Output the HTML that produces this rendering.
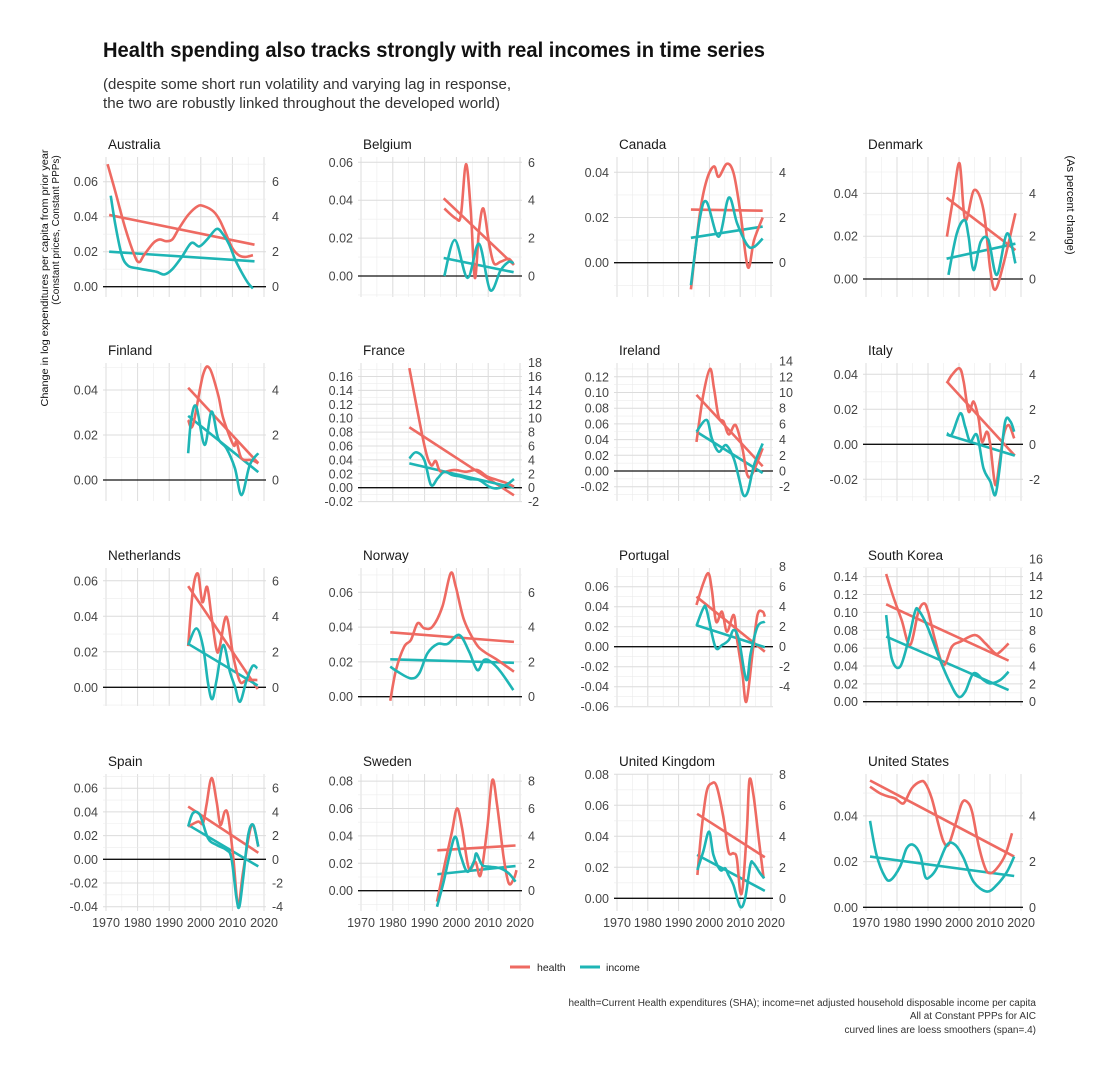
<!DOCTYPE html>
<html><head><meta charset="utf-8">
<style>
html,body{margin:0;padding:0;background:#fff;}
svg{display:block;font-family:"Liberation Sans",sans-serif;}
</style></head>
<body>
<svg id="chart" width="1114" height="1075" viewBox="0 0 1114 1075">
<text x="103" y="57" font-size="21" font-weight="bold" fill="#111" textLength="662" lengthAdjust="spacingAndGlyphs">Health spending also tracks strongly with real incomes in time series</text>
<text x="103" y="89" font-size="15" fill="#333" textLength="408" lengthAdjust="spacingAndGlyphs">(despite some short run volatility and varying lag in response,</text>
<text x="103" y="108" font-size="15" fill="#333" textLength="397" lengthAdjust="spacingAndGlyphs">the two are robustly linked throughout the developed world)</text>
<text transform="translate(48,278) rotate(-90)" text-anchor="middle" font-size="10" fill="#111" textLength="257" lengthAdjust="spacingAndGlyphs">Change in log expenditures per capita from prior year</text>
<text transform="translate(59,230) rotate(-90)" text-anchor="middle" font-size="10" fill="#111">(Constant prices, Constant PPPs)</text>
<text transform="translate(1067,205) rotate(90)" text-anchor="middle" font-size="11" fill="#111">(As percent change)</text>
<g>
<line x1="510" y1="967" x2="530" y2="967" stroke="#EE6A62" stroke-width="3"/>
<text x="537" y="971" font-size="10.5" fill="#222">health</text>
<line x1="580" y1="967" x2="600" y2="967" stroke="#1EB5B5" stroke-width="3"/>
<text x="606" y="971" font-size="10.5" fill="#222">income</text>
</g>
<g font-size="10" fill="#333" text-anchor="end">
<text x="1036" y="1006">health=Current Health expenditures (SHA); income=net adjusted household disposable income per capita</text>
<text x="1036" y="1019">All at Constant PPPs for AIC</text>
<text x="1036" y="1033">curved lines are loess smoothers (span=.4)</text>
</g>
<g id="panels"></g>
</svg>
<script>
const countries=["Australia","Belgium","Canada","Denmark","Finland","France","Ireland","Italy","Netherlands","Norway","Portugal","South Korea","Spain","Sweden","United Kingdom","United States"];
const xTickYears=[1970,1980,1990,2000,2010,2020];
const leftTicks=[
[0,.02,.04,.06],[0,.02,.04,.06],[0,.02,.04],[0,.02,.04],
[0,.02,.04],[-.02,0,.02,.04,.06,.08,.10,.12,.14,.16],[-.02,0,.02,.04,.06,.08,.10,.12],[-.02,0,.02,.04],
[0,.02,.04,.06],[0,.02,.04,.06],[-.06,-.04,-.02,0,.02,.04,.06],[0,.02,.04,.06,.08,.10,.12,.14],
[-.04,-.02,0,.02,.04,.06],[0,.02,.04,.06,.08],[0,.02,.04,.06,.08],[0,.02,.04]];
const rightTicks=[
[0,2,4,6],[0,2,4,6],[0,2,4],[0,2,4],
[0,2,4],[-2,0,2,4,6,8,10,12,14,16,18],[-2,0,2,4,6,8,10,12,14],[-2,0,2,4],
[0,2,4,6],[0,2,4,6],[-4,-2,0,2,4,6,8],[0,2,4,6,8,10,12,14,16],
[-4,-2,0,2,4,6],[0,2,4,6,8],[0,2,4,6,8],[0,2,4]];
const health_Australia=[[1970.5,.070],[1973,.054],[1976,.034],[1979,.018],[1980.5,.014],[1982,.018],[1985,.025],[1987,.027],[1989,.026],[1991,.027],[1993,.033],[1996,.041],[1999,.046],[2001,.046],[2004,.043],[2006,.038],[2008,.030],[2010,.022],[2012,.018],[2014,.017],[2016.5,.018]];
const income_Australia=[[1971.5,.052],[1973,.035],[1975,.018],[1977,.012],[1980,.0105],[1983,.0095],[1986,.0085],[1988.5,.007],[1991,.010],[1994,.017],[1997,.025],[1999.5,.023],[2002,.027],[2005,.033],[2007,.030],[2009,.024],[2011,.015],[2013,.008],[2015,.002],[2016.5,-.001]];
const health_Belgium=[[1996.2,.0356],[1999.8,.0304],[2001.4,.032],[2003,.059],[2004.5,.035],[2005.8,-.001],[2007.1,.024],[2008.5,.0356],[2010.3,.017],[2011.8,.0067],[2013.9,.0075],[2016.5,.009],[2018.1,.0058]];
const income_Belgium=[[1996.2,0],[1999.5,.019],[2003.5,-.001],[2007.1,.017],[2010.6,-.0074],[2013.9,.003],[2016.5,.0075],[2018,.0067]];
const health_Canada=[[1994,-.0118],[1996.9,.0218],[1999.1,.0365],[2001.5,.0426],[2003,.038],[2005.7,.0438],[2007.9,.0394],[2010.1,.0218],[2012.5,-.002],[2014.5,.01],[2017.3,.02]];
const income_Canada=[[1994,-.0099],[1996.9,.0196],[1999.1,.0269],[2003,.0115],[2006.3,.0288],[2009,.0174],[2012.3,.0078],[2014.5,.007],[2017.3,.0107]];
const health_Denmark=[[1996.1,.0198],[1998.2,.0384],[2000.2,.054],[2002,.0275],[2004.9,.0416],[2007.9,.0322],[2010.1,.0042],[2011.7,-.005],[2014.4,.0073],[2018.2,.0307]];
const income_Denmark=[[1996.6,.0019],[1999.3,.0213],[2001.8,.0275],[2003.1,.0198],[2004.7,.0042],[2007,.0174],[2009.5,.0182],[2012.2,.0019],[2015.5,.0213],[2018.2,.0073]];
const health_Finland=[[1996,.0267],[1997.5,.0244],[2000.7,.0467],[2002.8,.0496],[2005.5,.0378],[2007.1,.0274],[2010.3,.0156],[2011.3,.017],[2012.9,.0096],[2016.1,.0089],[2018.2,.0074]];
const income_Finland=[[1996,.0119],[1997,.0274],[1998.6,.0326],[2001.2,.0156],[2003.4,.0304],[2005.5,.0185],[2008.1,.0141],[2010.8,.0052],[2012.9,-.0067],[2015.5,.0067],[2018.2,.0119]];
const health_France=[[1985.2,.172],[1989.9,.0615],[1992,.0327],[1993.5,.0385],[1995.1,.023],[1999.3,.0255],[2003,.023],[2006.6,.0255],[2009.7,.016],[2012.9,.011],[2016,.0063],[2018.1,.0014]];
const income_France=[[1985.2,.042],[1987.3,.051],[1989.9,.04],[1992,.004],[1994.1,.0135],[1996.2,.023],[1998.8,.018],[2001.4,.016],[2004,.0125],[2007.1,.011],[2010.3,.0014],[2012.9,-.001],[2016,.005],[2018.1,.0125]];
const health_Ireland=[[1995.8,.037],[1998,.0966],[2000.2,.130],[2001.5,.105],[2003,.069],[2004.6,.063],[2006.3,.0466],[2008.5,.0585],[2010.7,.029],[2012.3,-.005],[2014,-.003],[2017.3,.029]];
const income_Ireland=[[1995.8,.05],[1999.1,.065],[2000.8,.0415],[2003,.0246],[2005.4,.033],[2007.9,.016],[2009.6,-.0093],[2011,-.0305],[2012.5,-.026],[2014.5,.0076],[2017.3,.035]];
const health_Italy=[[1996.1,.0349],[1997.7,.0396],[2000.2,.0434],[2001.5,.0358],[2003.1,.0187],[2004.7,.0244],[2006.3,.0149],[2007.4,.0015],[2009,.0072],[2010.1,-.0004],[2011.7,-.0232],[2013.1,-.0099],[2014.4,.0053],[2016,.011],[2017.8,.0034]];
const income_Italy=[[1996.1,.0063],[1997.7,.0057],[2000.4,.0177],[2002,.01],[2003.6,.0015],[2005.8,.0053],[2007.9,-.0137],[2010.1,-.0213],[2011.7,-.029],[2013.1,-.0137],[2014.9,.013],[2016.6,.013],[2017.8,.0072]];
const health_Netherlands=[[1996,.0232],[1997.5,.0547],[1999.1,.064],[2000.5,.048],[2002,.0566],[2003.4,.0397],[2005,.021],[2006,.0229],[2008.1,.0397],[2010.3,.0172],[2012.4,.0032],[2014.5,.0041],[2017.9,.0041]];
const income_Netherlands=[[1996,.0238],[1998.6,.0332],[2000.7,.0229],[2002.3,.0022],[2003.6,-.0067],[2005,.0041],[2007.1,.0238],[2009.2,.0088],[2010.8,.0004],[2012.4,-.0081],[2014.5,.0041],[2016.4,.012],[2017.9,.0107]];
const health_Norway=[[1979.2,-.0023],[1981,.0153],[1983.6,.0288],[1985.7,.0326],[1987.8,.0422],[1989.9,.0393],[1992.5,.0403],[1995.6,.0518],[1998.2,.071],[1999.8,.0633],[2002.4,.0441],[2006.1,.0307],[2008.7,.0259],[2012.9,.0211],[2018.1,.0144]];
const income_Norway=[[1979.2,.0173],[1981.5,.0144],[1985.7,.0105],[1988.3,.0134],[1990.9,.0249],[1994.1,.0303],[1997.2,.0303],[2000.9,.0355],[2004,.0259],[2006.6,.0153],[2008.7,.0211],[2010.8,.0201],[2013.9,.0144],[2017.9,.0038]];
const health_Portugal=[[1995.8,.0417],[1998,.0633],[1999.7,.0733],[2000.8,.0567],[2002.2,.025],[2004.1,.035],[2005.7,.015],[2007.9,.0317],[2009,.0067],[2010.7,-.0267],[2012,-.055],[2014,-.0067],[2015.6,.0317],[2017.3,.035],[2018,.03]];
const income_Portugal=[[1995.8,.0207],[1998,.0383],[1999.1,.0367],[2001.9,0],[2004.1,.0017],[2006.3,.0067],[2007.9,.0167],[2009.6,.0067],[2012,-.0333],[2013.4,-.0067],[2015.6,.02],[2018,.025]];
const health_SouthKorea=[[1976.5,.143],[1978.8,.1175],[1981.5,.0914],[1984.2,.0634],[1986.9,.1007],[1988.8,.110],[1990.2,.0989],[1992.3,.069],[1995,.041],[1997.7,.0616],[2000.4,.0672],[2005.2,.0746],[2008.5,.0653],[2011.7,.0541],[2013.3,.056],[2016,.0653]];
const income_SouthKorea=[[1976.5,.097],[1978.3,.0485],[1981,.0392],[1983.7,.069],[1985.8,.1007],[1986.9,.1026],[1989.6,.0858],[1993.9,.0466],[1997.2,.0205],[1999.8,.0056],[2002,.0112],[2004.7,.0317],[2007.9,.0243],[2010.1,.0205],[2013.3,.0243],[2016,.0336]];
const health_Spain=[[1996,.0276],[1999.1,.0318],[2000.7,.0304],[2001.8,.0459],[2003.4,.0685],[2005,.0487],[2006.2,.029],[2007.6,.0403],[2008.7,.036],[2010.3,.0008],[2011.8,-.0386],[2013.4,-.0104],[2016.1,.029],[2018.2,.0107]];
const income_Spain=[[1996,.0276],[1997.5,.0389],[1999.7,.0375],[2002.3,.0177],[2005,.0121],[2008.1,.0079],[2009.7,.0008],[2011.3,-.033],[2012.2,-.04],[2013.4,-.016],[2015,.0206],[2016.6,.029],[2018.2,.0107]];
const health_Sweden=[[1993.9,-.008],[1996.5,.021],[1998.6,.043],[2000.2,.060],[2001.8,.0455],[2003.9,.0163],[2006,.021],[2007.6,.0114],[2009.7,.0455],[2011.3,.0807],[2012.8,.0625],[2014.9,.0236],[2016.5,.0053],[2018.1,.009],[2018.9,.015]];
const income_Sweden=[[1993.9,-.0117],[1996,.0066],[1998.1,.0285],[1999.7,.0394],[2001.3,.026],[2003.4,.0139],[2005.5,.0212],[2006.3,.0272],[2008.1,.0187],[2010.7,.0175],[2013.9,.0163],[2016.5,.0126],[2018.6,.0066]];
const health_UnitedKingdom=[[1996.1,.015],[1997.5,.0452],[1999.1,.0688],[2000.8,.0742],[2002.4,.072],[2004.6,.0516],[2006.2,.0301],[2007.8,.029],[2008.9,.0258],[2010,.0043],[2010.9,.0086],[2012.2,.0452],[2013,.0763],[2014.3,.0667],[2016,.0387],[2017.6,.0129]];
const income_UnitedKingdom=[[1996.1,.0183],[1998,.0301],[1999.9,.043],[2001.3,.028],[2003.5,.0183],[2005.1,.0194],[2006.2,.015],[2007.8,.0086],[2010,-.0054],[2011.6,0],[2013.3,.0215],[2014.3,.0226],[2016.5,.0161],[2017.8,.0129]];
const health_UnitedStates=[[1971.3,.0528],[1974.5,.0499],[1977.2,.0485],[1979.4,.0477],[1981.5,.0455],[1982.6,.0463],[1984.8,.0521],[1987.5,.055],[1989.1,.0543],[1991.2,.0477],[1993.4,.0361],[1995,.0288],[1996.6,.0273],[1998.8,.0361],[2000.9,.0455],[2002.5,.0463],[2004.2,.0419],[2006.3,.0273],[2008.5,.017],[2010.1,.0149],[2012.2,.017],[2014.9,.0229],[2017.1,.0324]];
const income_UnitedStates=[[1971.3,.0378],[1973.4,.0229],[1976.1,.0134],[1978,.012],[1981,.0178],[1983.1,.0258],[1985.3,.0273],[1987.5,.0229],[1989.1,.0134],[1990.7,.0134],[1992.8,.0171],[1996.1,.0273],[1998.8,.0273],[2001.5,.0215],[2004.7,.0112],[2009,.0069],[2012.2,.0098],[2015.5,.0156],[2017.8,.0222]];
// linear fits: [startYear, startValue, endYear, endValue]
const trendHealth=[[1971,.041,2017,.024],[1996,.041,2018,.006],[1994,.0235,2017.3,.023],[1996,.038,2018.2,.0135],[1996,.041,2018.2,.0075],[1985.2,.087,2018.1,-.011],[1995.8,.097,2017.3,.006],[1996,.036,2018,-.0065],[1996,.057,2018,-.001],[1979.2,.037,2018.1,.0315],[1995.8,.050,2018,-.005],[1976.5,.109,2016,.046],[1996,.0445,2018.2,.0055],[1994,.0295,2018.6,.033],[1996,.0545,2018,.0265],[1971.3,.0555,2017.8,.0222]];
const trendIncome=[[1971,.020,2017,.0145],[1996,.0095,2018,.002],[1994,.011,2017.3,.016],[1996,.0095,2018.2,.0165],[1996,.0285,2018.2,.0035],[1985.2,.035,2018.1,0],[1995.8,.05,2017.3,-.0025],[1996,.0055,2018,-.0065],[1996,.0245,2018,.001],[1979.2,.0215,2018.1,.0195],[1995.8,.0215,2018,-.0005],[1976.5,.073,2016,.013],[1996,.029,2018.2,-.006],[1994,.012,2018.6,.018],[1996,.028,2018,.0048],[1971.3,.0222,2017.8,.0137]];
const healthSeries=[health_Australia,health_Belgium,health_Canada,health_Denmark,health_Finland,health_France,health_Ireland,health_Italy,health_Netherlands,health_Norway,health_Portugal,health_SouthKorea,health_Spain,health_Sweden,health_UnitedKingdom,health_UnitedStates];
const incomeSeries=[income_Australia,income_Belgium,income_Canada,income_Denmark,income_Finland,income_France,income_Ireland,income_Italy,income_Netherlands,income_Norway,income_Portugal,income_SouthKorea,income_Spain,income_Sweden,income_UnitedKingdom,income_UnitedStates];

// layout (pixels)
const colX=[[106,264],[361,520],[617,771],[866,1021]];
const rowY=[[157,297],[363,501],[568,706],[774,911]];
const zeroPx=[286.7,276,262.7,279,480,487.7,471,444.3,687.3,696.7,646.7,701.7,859.3,890.7,898.3,907.3];
const unitPx=[35,37.9,45.2,42.8,45,13.9,15.7,35,35.5,34.8,20,17.86,23.7,27.4,31,45.7];
const RED="#EE6A62",TEAL="#1EB5B5";
const NS="http://www.w3.org/2000/svg";
const root=document.getElementById('panels');
function mk(tag,attrs,parent){const e=document.createElementNS(NS,tag);for(const k in attrs)e.setAttribute(k,attrs[k]);parent.appendChild(e);return e;}
function smoothPath(pts){
  if(pts.length<2)return "";
  let d="M"+pts[0][0].toFixed(2)+","+pts[0][1].toFixed(2);
  for(let i=0;i<pts.length-1;i++){
    const p0=pts[i-1]||pts[i],p1=pts[i],p2=pts[i+1],p3=pts[i+2]||p2;
    const c1x=p1[0]+(p2[0]-p0[0])/6,c1y=p1[1]+(p2[1]-p0[1])/6;
    const c2x=p2[0]-(p3[0]-p1[0])/6,c2y=p2[1]-(p3[1]-p1[1])/6;
    d+=" C"+c1x.toFixed(2)+","+c1y.toFixed(2)+" "+c2x.toFixed(2)+","+c2y.toFixed(2)+" "+p2[0].toFixed(2)+","+p2[1].toFixed(2);
  }
  return d;
}
function fmtL(v){const s=Math.abs(v).toFixed(2);return (v<-1e-9?"-":"")+s;}
countries.forEach((name,i)=>{
  const col=i%4,row=Math.floor(i/4);
  const [g0,g1]=colX[col],[top,bot]=rowY[row];
  const left=g0-3,right=g1+2;
  const xs=yr=>g0+(yr-1970)*(g1-g0)/50;
  const ys=v=>zeroPx[i]-v/0.02*unitPx[i];
  const g=mk('g',{},root);
  
  
  const t=mk('text',{x:left+5,y:top-8,'font-size':13.5,fill:'#1a1a1a'},g);
  t.textContent=name;
  
  
  for(let yr=1970;yr<=2020;yr+=5){
    const major=yr%10===0;
    const l=mk('line',{x1:xs(yr),x2:xs(yr),y1:top,y2:bot,stroke:major?'#dcdcdc':'#ececec','stroke-width':major?1:0.6},g);
    
    
  }
  const lt=leftTicks[i];
  const minors=[];
  for(let k=0;k<lt.length-1;k++)minors.push((lt[k]+lt[k+1])/2);
  minors.push(lt[0]-0.01);minors.push(lt[lt.length-1]+0.01);
  minors.forEach(v=>{const y=ys(v);if(y>=top-0.5&&y<=bot+0.5){
    const l=mk('line',{x1:left,x2:right,y1:y,y2:y,stroke:'#ececec','stroke-width':0.6},g);
    
    }});
  lt.forEach(v=>{const y=ys(v);
    const l=mk('line',{x1:left,x2:right,y1:y,y2:y,stroke:'#dcdcdc','stroke-width':1},g);
    
    
    const tx=mk('text',{x:left-5,y:y+4.5,'font-size':12.5,fill:'#444','text-anchor':'end'},g);
    tx.textContent=fmtL(v);
    
    
  });
  rightTicks[i].forEach(v=>{const y=ys(v/100);
    const tx=mk('text',{x:right+6,y:y+4.5,'font-size':12.5,fill:'#444'},g);
    tx.textContent=String(v);
    
    
  });
  const z=mk('line',{x1:left,x2:right,y1:ys(0),y2:ys(0),stroke:'#111','stroke-width':1.3},g);
  
  
  if(row===3){xTickYears.forEach(yr=>{
    const tx=mk('text',{x:xs(yr),y:bot+16,'font-size':12.5,fill:'#444','text-anchor':'middle'},g);
    tx.textContent=String(yr);
    
    
  });}
  const th=trendHealth[i],ti=trendIncome[i];
  const l1=mk('line',{x1:xs(th[0]),y1:ys(th[1]),x2:xs(th[2]),y2:ys(th[3]),stroke:RED,'stroke-width':2.6},g);
  
  
  const l2=mk('line',{x1:xs(ti[0]),y1:ys(ti[1]),x2:xs(ti[2]),y2:ys(ti[3]),stroke:TEAL,'stroke-width':2.6},g);
  
  
  const p1=mk('path',{d:smoothPath(healthSeries[i].map(p=>[xs(p[0]),ys(p[1])])),fill:'none',stroke:RED,'stroke-width':2.6,'stroke-linejoin':'round'},g);
  
  
  const p2=mk('path',{d:smoothPath(incomeSeries[i].map(p=>[xs(p[0]),ys(p[1])])),fill:'none',stroke:TEAL,'stroke-width':2.6,'stroke-linejoin':'round'},g);
  
  
});
</script>
</body></html>
